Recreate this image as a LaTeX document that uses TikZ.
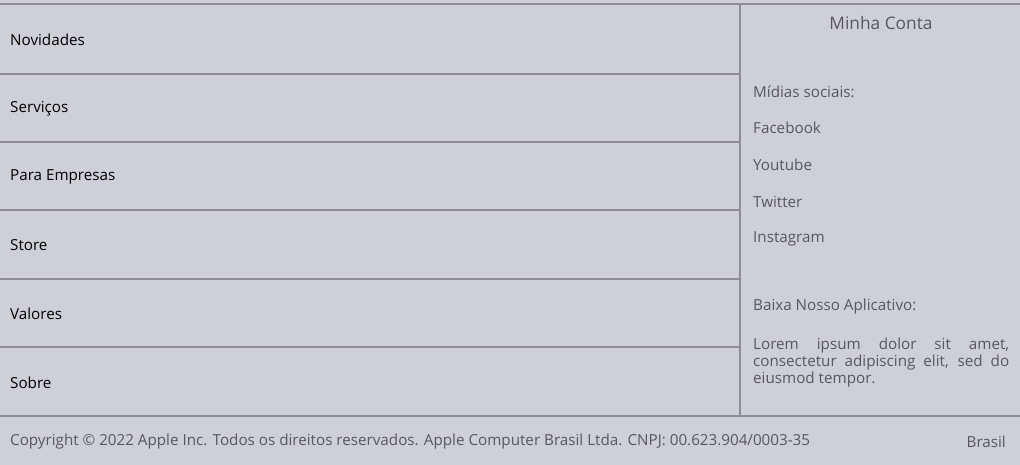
\documentclass[tikz,border=0pt]{standalone}
\usepackage{fontspec}
\setmainfont{Open Sans}
\definecolor{bg}{RGB}{207,207,215}
\definecolor{rule}{RGB}{142,142,146}
\definecolor{soft}{RGB}{88,88,92}
\begin{document}
\begin{tikzpicture}[x=1pt,y=-1pt,
  sep/.style={draw=rule,line width=1.3pt},
  menu/.style={anchor=west,inner sep=0pt,font=\fontsize{15.2}{17}\selectfont,text=black},
  side/.style={anchor=west,inner sep=0pt,font=\fontsize{15.2}{17}\selectfont,text=soft},
  foot/.style={inner sep=0pt,font=\fontsize{15.2}{17}\selectfont,text=soft}]
\fill[bg] (0,0) rectangle (1020,465);
\useasboundingbox (0,0) rectangle (1020,465);
% rules
\coordinate (tl) at (0,4); \coordinate (tr) at (1020,4);
\coordinate (bl) at (0,416); \coordinate (br) at (1020,416);
\coordinate (vt) at (740,4); \coordinate (vb) at (740,416);
\draw[sep] (tl) -- (tr);
\draw[sep] (bl) -- (br);
\draw[sep] (vt) -- (vb);
\foreach \y/\n in {74/a,142/b,210/c,279/d,347/e}{
  \coordinate (l\n) at (0,\y); \coordinate (r\n) at (740,\y);
  \draw[sep] (l\n) -- (r\n);
}
% menu
\node[menu] (m1) at (10,40) {Novidades};
\node[menu] (m2) at (10,108.5) {Serviços};
\node[menu] (m3) at (10,177) {Para Empresas};
\node[menu] (m4) at (10,245.5) {Store};
\node[menu] (m5) at (10,314) {Valores};
\node[menu] (m6) at (10,382.5) {Sobre};
% side
\node[foot,font=\fontsize{17.3}{19}\selectfont] (conta) at (881,23.5) {Minha Conta};
\node[side] (midias) at (753,91.5) {Mídias sociais:};
\node[side] (fb) at (753,127.5) {Facebook};
\node[side] (yt) at (753,164.5) {Youtube};
\node[side] (tw) at (753,201.5) {Twitter};
\node[side] (ig) at (753,238.5) {Instagram};
\node[side] (app) at (753,306.5) {Baixa Nosso Aplicativo:};
\node[side,anchor=north west,text width=256pt,align=justify] (lorem) at (753,337.5) {Lorem ipsum dolor sit amet,\linebreak consectetur adipiscing elit, sed do\linebreak eiusmod tempor.};
% footer
\node[foot,anchor=west] (copy) at (10,441.5) {Copyright © 2022 Apple Inc. Todos os direitos reservados. Apple Computer Brasil Ltda. CNPJ: 00.623.904/0003-35};
\node[foot,anchor=east] (pais) at (1006,441.5) {Brasil};
\end{tikzpicture}
\end{document}
